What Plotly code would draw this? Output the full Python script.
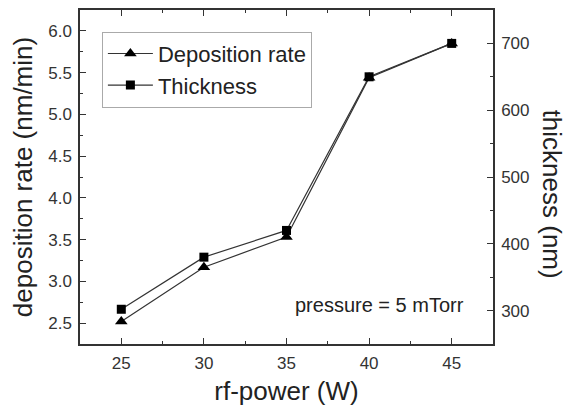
import plotly.graph_objects as go

power = [25, 30, 35, 40, 45]
dep_rate = [2.52, 3.17, 3.53, 5.44, 5.85]
thickness = [302, 380, 420, 650, 700]

x_ticks = [25, 30, 35, 40, 45]
y1_ticks = [2.5, 3.0, 3.5, 4.0, 4.5, 5.0, 5.5, 6.0]
y2_ticks = [300, 400, 500, 600, 700]

font_fam = "Liberation Sans, Arial, sans-serif"
ink = "#333333"

fig = go.Figure()
fig.add_trace(go.Scatter(
    x=power, y=dep_rate, name="Deposition rate", mode="lines+markers",
    line=dict(color="#333333", width=1.2),
    marker=dict(symbol="triangle-up", size=11, color="black"),
    yaxis="y"))
fig.add_trace(go.Scatter(
    x=power, y=thickness, name="Thickness", mode="lines+markers",
    line=dict(color="#333333", width=1.2),
    marker=dict(symbol="square", size=9, color="black"),
    yaxis="y2"))

axis_common = dict(showgrid=False, zeroline=False, showline=True,
                   linecolor=ink, linewidth=1.5, ticks="inside",
                   ticklen=6, tickcolor=ink, ticklabelstandoff=3,
                   tickfont=dict(family=font_fam, size=17, color=ink))

fig.update_layout(
    width=570, height=406,
    margin=dict(l=80, r=77, t=10, b=62, autoexpand=False),
    paper_bgcolor="white", plot_bgcolor="white",
    showlegend=True,
    legend=dict(x=0.053, y=0.935, xanchor="left", yanchor="top",
                bgcolor="white", bordercolor="#aaaaaa", borderwidth=1,
                font=dict(family=font_fam, size=22, color="#222222"),
                tracegroupgap=0, itemwidth=45),
    xaxis=dict(**axis_common, range=[22.5, 47.5], tickvals=x_ticks,
               mirror="ticks",
               minor=dict(ticks="inside", ticklen=3, dtick=2.5, tick0=22.5, tickcolor=ink),
               title=dict(text="rf-power (W)", standoff=12,
                          font=dict(family=font_fam, size=26, color="#222222"))),
    yaxis=dict(**axis_common, range=[2.25, 6.25], tickvals=y1_ticks,
               tickformat=".1f",
               minor=dict(ticks="inside", ticklen=3, dtick=0.25, tick0=2.25, tickcolor=ink),
               title=dict(text="deposition rate (nm/min)", standoff=8,
                          font=dict(family=font_fam, size=26, color="#222222"))),
    yaxis2=dict(**axis_common, range=[250, 750], tickvals=y2_ticks,
                overlaying="y", side="right",
                minor=dict(ticks="inside", ticklen=3, dtick=50, tick0=250, tickcolor=ink)),
    annotations=[
        dict(text="thickness (nm)", textangle=90, xref="paper", yref="paper",
             x=1.143, y=0.45, xanchor="center", yanchor="middle", showarrow=False,
             font=dict(family=font_fam, size=26, color="#222222")),
        dict(text="pressure = 5 mTorr", xref="x", yref="y",
             x=40.6, y=2.72, xanchor="center", yanchor="middle", showarrow=False,
             font=dict(family=font_fam, size=20, color="#222222")),
    ],
)

fig.write_html("out.html")
